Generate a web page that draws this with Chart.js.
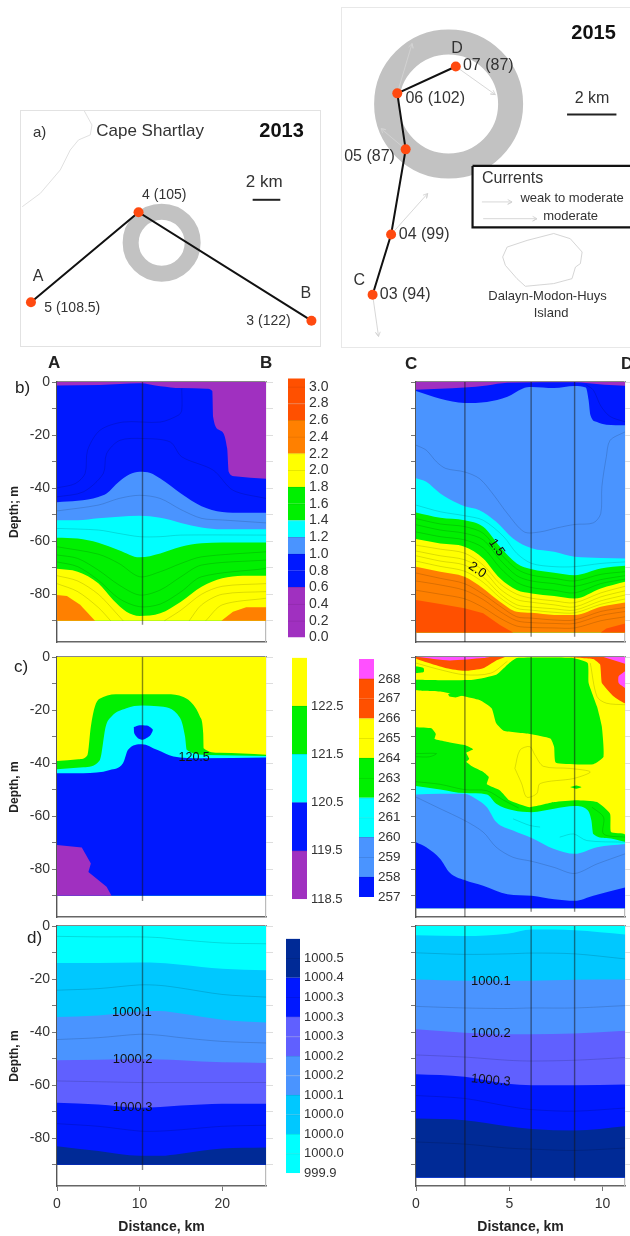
<!DOCTYPE html>
<html>
<head>
<meta charset="utf-8">
<script src="https://cdn.jsdelivr.net/npm/chart.js@4"></script>
<style>
html, body { margin: 0; padding: 0; background: #fff; }
#page { position: relative; width: 630px; height: 1236px; overflow: hidden; filter: blur(0.45px); font-family: "Liberation Sans", Arial, sans-serif; color: #222; }
canvas { position: absolute; }
.tag { position: absolute; line-height: 1; transform: translateY(-50%); }
</style>
</head>
<body>
<div id="page"></div>
<script>
// colours
const PURPLE = '#a030c0', BLUE = '#0018ff', SKY = '#4a94ff', CYAN = '#00ffff', GREEN = '#00f000';
const YELLOW = '#ffff00', ORANGE = '#ff8000', RED = '#ff5000', PINK = '#ff50ff';
const AZURE = '#00c8ff', PERI = '#6060ff', NAVY = '#002a96';

// ---- maps (km) ----
const stations13 = [[0.72, 3.16], [8.5, 9.67], [21.0, 1.83]];
const ring13 = [[10.17, 7.47]];
const scale13 = [[16.75, 10.57], [18.75, 10.57]];
const coast13 = [[4.58, 16.99], [5.13, 15.98], [5.01, 15.26], [4.16, 14.9], [3.56, 14.17], [2.84, 12.73], [1.4, 11.04], [0.09, 10.07]];

const stations15 = [[1.24, 2.12], [1.99, 4.56], [2.58, 8.01], [2.24, 10.28], [4.61, 11.37]];
const ring15 = [[4.32, 9.85]];
const scale15 = [[9.12, 9.42], [11.12, 9.42]];
const island15 = [[6.51, 3.65], [6.69, 4.05], [7.5, 4.32], [8.58, 4.6], [9.25, 4.39], [9.73, 3.85], [9.66, 3.38], [9.46, 3.24], [9.32, 2.77], [8.58, 2.57], [7.43, 2.46], [7.09, 2.77], [6.62, 3.31], [6.51, 3.65]];
const legendBox15 = [[5.29, 7.34], [11.9, 7.34], [11.9, 4.85], [5.29, 4.85], [5.29, 7.34]];
const currents15 = [
    [[1.24, 2.12], [1.48, 0.43]], [[1.99, 4.56], [3.47, 6.22]], [[2.58, 8.01], [1.58, 8.85]],
    [[2.24, 10.28], [2.84, 12.3]], [[4.61, 11.37], [6.21, 10.23]],
    [[5.67, 5.88], [6.89, 5.88]], [[5.72, 5.2], [7.9, 5.2]]
];

// ---- b) 2013 section ----
const b13Blue = [[0, -1.3], [5.2, -1.1], [10, -0.5], [12.5, -1.6], [15, -2.3], [18.1, -2.5], [18.8, -3.4], [18.9, -13.2], [19.7, -18.2], [20.6, -25.1], [20.8, -33.9], [21.5, -35.5], [25.3, -36.5]];
const b13Sky = [[0, -45.3], [2.5, -44.8], [5, -43.3], [6, -42], [7.5, -37.6], [8.8, -34.8], [10, -33.8], [11.3, -34.3], [12.5, -36.4], [15, -42], [17.5, -46.8], [20, -49], [22.5, -49.3], [25.3, -49.3]];
const b13Cyan = [[0, -52.1], [2.5, -52.1], [5, -51.4], [7.5, -50.8], [10, -50.4], [12.5, -51.2], [15, -53.1], [17.5, -54.8], [20, -55.5], [25.3, -55.5]];
const b13Green = [[0, -58.7], [2.5, -59], [5, -60.6], [7.5, -63.4], [10, -66.1], [12.5, -64.6], [15, -62.1], [17.5, -60.8], [20, -60.5], [25.3, -60.5]];
const b13Yellow = [[0, -70.4], [2.5, -71.5], [5, -75.9], [6.8, -82.2], [8.4, -86.6], [10, -88.2], [12.5, -87.2], [15, -82.8], [17.5, -77.2], [20, -74], [22.5, -73], [25.3, -73]];
const b13OrangeL = [[0, -90], [0, -80.3], [1.2, -80.7], [2.8, -84], [4.6, -90]];
const b13OrangeR = [[19.9, -90], [21.3, -86.6], [22.9, -84.9], [25.3, -84.9], [25.3, -90]];
const b13Iso = [
    [[0, -39.9], [2.2, -38.3], [3.4, -34.5], [3.7, -25.7], [5.2, -18.2], [8, -15.1], [12.5, -15.1], [14.7, -12.5], [15.1, -10.7], [15.1, -2.5]],
    [[0, -43.3], [3.2, -41.4], [5.6, -34.5], [6, -27], [7.6, -22], [10.4, -21.3], [13.7, -22.6], [15.1, -28.2], [18.9, -33.2], [21.3, -40.8], [25.3, -43.9]],
    [[0, -48.6], [5, -46.4], [7.5, -43.9], [10, -42.7], [12.5, -43.9], [15, -48.1], [17.5, -51.4], [20, -52], [25.3, -53.1]],
    [[0, -55.2], [5, -55.8], [7.5, -57.1], [10, -58.3], [12.5, -58.3], [15, -57.7], [25.3, -57.7]],
    [[0, -62.1], [5, -64.9], [7.5, -68.4], [10, -73.4], [12.5, -71.5], [15, -68.4], [17.5, -65.9], [25.3, -64]],
    [[0, -65.2], [2.5, -66.5], [5, -70.9], [7.5, -76.5], [10, -80.3], [12.5, -78.4], [15, -73.4], [17.5, -69], [25.3, -67.1]],
    [[0, -67.8], [2.5, -69.6], [5, -74.7], [7.5, -81.6], [10, -84.7], [12.5, -83.7], [15, -79.1], [17.5, -73.4], [25.3, -70.3]],
    [[0, -73], [2.5, -75], [5, -80], [7, -86.5], [8, -90]],
    [[0, -76], [2.5, -79], [5, -85], [6.5, -90]],
    [[13, -90], [15, -86], [17.5, -80], [20, -77], [25.3, -76]],
    [[16, -90], [17.5, -84], [20, -80], [25.3, -79]],
    [[18, -90], [20, -84], [25.3, -81.5]]
];

// ---- b) 2015 section ----
const b15Blue = [[0, -2.9], [2.6, -2.1], [3.8, -1.3], [4.9, -0.3], [8.4, -0.1], [10.1, -1], [11.2, -1.4]];
const b15Sky = [[0, -3.4], [1.3, -6.3], [2.6, -7.9], [3.8, -7.5], [4.9, -5.6], [5.7, -2.5], [6.2, -1.9], [7.4, -2.3], [8.5, -1.5], [9.1, -2.1], [9.25, -6.9], [9.35, -12.5], [9.7, -15.1], [10.2, -16.1], [11.2, -16.3]];
const b15Cyan = [[0, -36.3], [0.55, -37.6], [1.3, -42], [2.2, -45.6], [2.6, -46.8], [3.4, -48.3], [4.3, -52.7], [5.2, -59], [6.2, -62.7], [7.4, -64], [8.5, -65.9], [9.9, -66.3], [11.2, -66.5]];
const b15X = [0, 1.3, 2.6, 3.6, 4.5, 5.4, 6.2, 7.4, 8.5, 9.9, 11.2];
const b15Green = [-49.2, -51.2, -52.1, -54.6, -62.1, -68.4, -70.6, -71.9, -72.8, -70.3, -69.3];
const b15Yellow = [-59.2, -60.9, -62.1, -66.5, -74, -78.4, -79.7, -80.7, -81.6, -77.8, -75.3];
const b15Orange = [-69.6, -71.5, -73.4, -77.8, -82.8, -86.6, -87, -87.8, -87.8, -84.7, -83.1];
const b15RedL = [[0, -94.4], [0, -82.2], [1.3, -83.7], [2.6, -85.3], [3.6, -87.2], [4.5, -91.6], [5.2, -94.4]];
const b15RedR = [[9.9, -94.4], [10.2, -92.9], [11.2, -91], [11.2, -94.4]];
const b15IsoSky = [[0, -23.8], [0.55, -25.7], [1.1, -30.1], [1.6, -32.6], [2.6, -33.9], [3.4, -36.4], [4.1, -42], [4.9, -49.6], [5.8, -56.5], [6.65, -56.5], [7.55, -55], [8.5, -53.7], [9.5, -53.1], [9.9, -49.6], [9.96, -39.5], [10.2, -28.2], [10.4, -22], [11.2, -18.8]];
const b15IsoCyan = [[0, -46.4], [1.3, -48.9], [2.6, -50.4], [3.6, -52.1], [4.7, -58.3], [5.4, -64.6], [6.2, -68.4], [7.4, -69.6], [8.5, -69.6], [9.9, -68.4], [11.2, -67.8]];
const b15IsoTop = [[9.1, -1], [9.5, -3], [9.9, -9], [10.4, -13], [11.2, -15]];
const b15Iso = [
    [-51.5, -53.5, -54.5, -57, -64.5, -70.5, -72.8, -74, -75, -72.5, -71.5],
    [-53.8, -55.8, -57, -59.5, -67, -73, -75, -76, -77, -74.5, -73],
    [-56.5, -58.3, -59.5, -62.5, -70, -75.5, -77.5, -78.5, -79.5, -76, -74.3],
    [-61.5, -63, -64.5, -69, -76, -80, -81.5, -82.5, -83.2, -79.5, -77],
    [-63.7, -65.5, -67, -71, -78, -82, -83, -84, -84.8, -81, -78.7],
    [-65.5, -67.5, -69, -73.5, -79.8, -84, -84.8, -85.5, -86, -82.5, -80.3],
    [-67.5, -69.5, -71.3, -75.5, -81.3, -85.3, -86, -86.8, -87, -83.8, -81.8],
    [-72, -74, -76, -80, -84.5, -88.5, -89, -89.7, -89.7, -86.5, -85],
    [-75, -76.5, -78.5, -82, -86.5, -90, -90.7, -91, -91, -88, -86.5],
    [-78.5, -80, -81.7, -85, -89, -92, -92.5, -92.7, -92.7, -90, -88.5]
];

// ---- c) 2013 section ----
const c13Green = [[0, -39.2], [2.6, -38.5], [3.7, -36.9], [4.1, -26.2], [4.6, -18.6], [5.6, -15.1], [7.6, -14], [10.3, -14], [13.3, -14], [15.3, -15.1], [16.5, -18], [17.3, -22.4], [17.7, -28.7], [17.75, -34.4], [19.7, -36.1], [25.3, -36.8]];
const c13Cyan = [[0, -42.3], [3.2, -41.6], [5.2, -38.8], [5.9, -26.2], [6.6, -22.4], [8.4, -19.3], [10.3, -18.3], [12.2, -18.6], [14.9, -23], [15.5, -30], [15.7, -35], [18.1, -36.9], [25.3, -37.3]];
const c13Blue = [[0, -43.8], [3.2, -43.8], [6.4, -42.6], [8, -40], [8.6, -35], [10.3, -32.9], [12.1, -35], [14.1, -37.5], [17.3, -38.2], [25.3, -37.9]];
const c13Core = [[9.3, -26.4], [10, -25.7], [11, -25.9], [11.6, -27.4], [11.25, -29.7], [10.4, -31.2], [9.8, -30.6], [9.35, -28.7], [9.3, -26.4]];
const c13Purple = [[0, -90], [0, -70.9], [3, -71.8], [4.1, -77.8], [3.8, -81], [6, -86.6], [6.6, -90]];

// ---- c) 2015 section ----
const c15GreenTop = [[0, -8.6], [1.8, -8.8], [3.06, -8.6], [4.3, -6.7], [5, -2.3], [5.4, -0.4], [8.4, -0.4], [9.2, -2.3], [9.25, -9.8], [9.7, -18.7], [9.96, -26.3], [10.05, -37.6], [9.5, -40.4], [7.5, -39.9], [7.4, -33.8], [7.2, -30.7], [6.1, -29], [4.7, -27.8], [4.3, -25], [4.05, -19.3], [3.4, -16.2], [1.3, -13], [0, -12.4], [0, -8.6]];
const c15GreenLow = [[0, -26.5], [0.82, -26.9], [1.06, -29], [1, -30.9], [1.63, -31.9], [2.6, -33.2], [3.06, -34.8], [2.7, -36.1], [2.85, -38.4], [2.7, -39.5], [3, -41.2], [3.6, -43.3], [3.9, -45.2], [3.8, -48], [4.5, -50.3], [5, -54], [6.1, -56.6], [7.4, -54.7], [8.6, -54], [9.7, -54.7], [10.4, -59.1], [10.45, -66], [11.2, -66.9], [11.2, -75], [0, -75], [0, -26.5]];
const c15SpotA = [[0, -3.5], [0.41, -4.2], [0.41, -5.7], [0, -6.1]];
const c15SpotB = [[1.72, -14], [2.08, -13], [2.89, -12.6], [2.8, -13.6], [2.17, -15.2], [1.8, -14.9], [1.72, -14]];
const c15SpotC = [[8.26, -49], [8.58, -48.4], [8.87, -49], [8.58, -49.7], [8.26, -49]];
const c15RedL = [[0, 0], [0, -0.6], [0.55, -2], [1.63, -4.2], [2.6, -5.2], [3.6, -4.2], [4.3, -1.3], [4.77, 0]];
const c15PinkL = [[0.1, 0], [1.8, -1.3], [3.6, -0.4], [3.96, 0]];
const c15RedR = [[8.08, 0], [9.5, -0.8], [9.87, -2.9], [9.96, -9.8], [10.6, -14.9], [11.2, -17.4], [11.2, 0]];
const c15PinkTop = [[10.05, 0], [11.2, -2.5], [11.2, 0]];
const c15PinkSide = [[11.2, -5.4], [10.86, -7.3], [10.86, -9.8], [11.2, -11.7]];
const c15Cyan = [[0, -48.6], [1.3, -49.9], [2.6, -51.3], [3.8, -51.8], [4.3, -55.3], [5.2, -57.8], [6.2, -58.5], [7.4, -57.2], [8.5, -56.2], [9.2, -57.8], [9.4, -61.6], [9.5, -66.7], [10.2, -68.2], [11.2, -69.6]];
const c15Sky = [[0, -51.8], [1.3, -51.5], [2.6, -51.5], [3.2, -53.4], [3.8, -56.6], [4.3, -62.2], [5.2, -65.4], [6.2, -68.2], [7.4, -72.4], [8.5, -74.2], [9.7, -71.7], [11.2, -70.5]];
const c15Blue = [[0, -69.8], [0.55, -71.7], [1.3, -76.1], [1.8, -81.2], [2.6, -84.1], [3.6, -86.2], [4.9, -89.4], [6.2, -90], [7.4, -91.3], [8.5, -91.9], [9.5, -90], [11.2, -86.9]];
const c15Iso = [
    [[0, -52.8], [1.3, -57.2], [2.6, -61.6], [3.6, -66], [4.3, -71.7], [5.2, -75.5], [6.2, -77], [7.4, -79.3], [8.5, -81.6], [9.7, -78], [11.2, -74.2]],
    [[5.3, -42], [5.57, -35.1], [6.1, -33.8], [6.38, -37], [6.83, -41.2], [8.26, -42], [9.34, -43.3], [8.44, -45.8], [6.65, -47.7], [6.47, -51.5], [5.93, -52.8], [5.66, -47.7], [5.3, -42]],
    [[0, -47], [1.3, -48], [2.6, -50], [3.8, -50.4], [4.7, -54], [5.5, -56.9]],
    [[9.43, -56.6], [10.05, -60.4], [10.05, -66.7], [11.2, -67.9]],
    [[0, -2.3], [1.3, -4.8], [2.6, -6.7], [4, -6.1], [4.9, -1.6]],
    [[9.34, -2.3], [9.7, -14.9], [10.2, -17.4], [11.2, -18]],
    [[7.7, -67.9], [8.44, -66.7], [9.16, -69.2], [11.2, -69.8]],
    [[5.2, -61], [6.1, -63.5], [6.65, -64.1]],
    [[0, -36.4], [1.09, -36.4], [0.73, -37.6], [0, -37.6]]
];

// ---- d) sections ----
const d13X = [0, 5, 10, 12.5, 15, 20, 25.3];
const d13Azure = [-13.9, -13.9, -13.8, -13.9, -14.6, -16.1, -16.7];
const d13Sky = [-34.3, -33.7, -32.2, -32, -33, -35.3, -36.4];
const d13Peri = [-50.6, -50.4, -50.1, -50.3, -50.6, -51.4, -51.6];
const d13Blue = [-66.6, -67.3, -68.5, -68.2, -67.7, -67, -67];
const d13Navy = [-83, -84.8, -86.6, -86.6, -85.8, -83.9, -83.5];
const d13Iso = [
    [-3.9, -4.1, -4.1, -4.4, -5.2, -6.4, -6.7],
    [-24.2, -23.6, -22.2, -22.4, -23.4, -25.8, -26.8],
    [-42.8, -42.1, -40.8, -41.2, -42.1, -43.5, -44.1],
    [-58.4, -58.7, -59, -59, -59, -59, -59],
    [-74.5, -75.5, -77.3, -77.3, -76.8, -75.5, -75.1]
];
const d15X = [0, 2.6, 4.9, 6.2, 8.5, 11.2];
const d15Azure = [-3.5, -3.8, -2.9, -1.3, -1.6, -3.2];
const d15Sky = [-20.2, -20.6, -20.6, -20.6, -20.3, -20.2];
const d15Peri = [-38.9, -40.2, -40.8, -40.8, -40.5, -39.5];
const d15Blue = [-55.9, -56.8, -59.5, -60, -60, -59.7];
const d15Navy = [-72.6, -73.2, -75.5, -76.5, -77.1, -75.5];
const d15Iso = [
    [-10.1, -10.7, -10.5, -10.2, -10.5, -12.4],
    [-30.3, -30.9, -31.1, -30.9, -30.9, -30],
    [-48.6, -49.4, -50.6, -50.9, -50.6, -49.6],
    [-63.9, -65, -67.9, -69.2, -69.8, -68.6],
    [-81.4, -82.2, -83.7, -84.1, -84.6, -83.7]
];

// ---- colour scales ----
const tempEdges = [0, 0.2, 0.4, 0.6, 0.8, 1.0, 1.2, 1.4, 1.6, 1.8, 2.0, 2.2, 2.4, 2.6, 2.8, 3.0, 3.1];
const tempColors = [PURPLE, PURPLE, PURPLE, BLUE, BLUE, SKY, CYAN, GREEN, GREEN, YELLOW, YELLOW, ORANGE, ORANGE, RED, RED, RED];
const tempTicks = [0, 0.2, 0.4, 0.6, 0.8, 1.0, 1.2, 1.4, 1.6, 1.8, 2.0, 2.2, 2.4, 2.6, 2.8, 3.0];
const tempLabels = ['0.0', '0.2', '0.4', '0.6', '0.8', '1.0', '1.2', '1.4', '1.6', '1.8', '2.0', '2.2', '2.4', '2.6', '2.8', '3.0'];
const sal13Edges = [118.5, 119.5, 120.5, 121.5, 122.5, 123.5];
const sal13Colors = [PURPLE, BLUE, CYAN, GREEN, YELLOW];
const sal13Ticks = [118.5, 119.5, 120.5, 121.5, 122.5];
const sal13Labels = ['118.5', '119.5', '120.5', '121.5', '122.5'];
const sal15Edges = [257, 258, 259, 260, 261, 262, 263, 264, 265, 266, 267, 268, 269];
const sal15Colors = [BLUE, SKY, SKY, CYAN, CYAN, GREEN, GREEN, YELLOW, YELLOW, RED, RED, PINK];
const sal15Ticks = [257, 258, 259, 260, 261, 262, 263, 264, 265, 266, 267, 268];
const sal15Labels = ['257', '258', '259', '260', '261', '262', '263', '264', '265', '266', '267', '268'];
const densEdges = [0, 1, 2, 3, 4, 5, 6, 7, 8, 9, 10, 11, 12];
const densColors = [CYAN, CYAN, AZURE, AZURE, SKY, SKY, PERI, PERI, BLUE, BLUE, NAVY, NAVY];
const densTicks = [0, 1, 2, 3, 4, 5, 6, 7, 8, 9, 10, 11];
const densLabels = ['999.9', '1000.0', '1000.0', '1000.0', '1000.1', '1000.2', '1000.2', '1000.3', '1000.3', '1000.3', '1000.4', '1000.5'];

const page = document.getElementById('page');
const FONT = '"Liberation Sans", Arial, sans-serif';
const FRAME_DEPTH = -98;

const pts = arr => arr.map(([x, y]) => ({ x, y }));
const zip = (xs, ys) => xs.map((x, i) => ({ x, y: ys[i] }));

function band(data, color, bottom) {
    return { data, backgroundColor: color, fill: { value: bottom }, showLine: true, borderWidth: 0, pointRadius: 0, cubicInterpolationMode: 'monotone' };
}
function blob(data, color, tension = 0.2) {
    return { data, backgroundColor: color, fill: 'shape', showLine: true, borderWidth: 0, pointRadius: 0, tension };
}
function iso(data) {
    return { data, showLine: true, fill: false, borderColor: 'rgba(0,0,0,0.2)', borderWidth: 0.7, pointRadius: 0, tension: 0.3 };
}
function stroke(data, color, width) {
    return { data, showLine: true, fill: false, borderColor: color, borderWidth: width, pointRadius: 0, tension: 0 };
}
function vline(x, to) {
    return stroke([{ x, y: 0 }, { x, y: to }], 'rgba(20,20,20,0.5)', 1.4);
}
function arrow(from, tip) {
    // shaft plus two barbs, built from the end points
    const a = Math.atan2(tip[1] - from[1], tip[0] - from[0]);
    const barb = d => ({ x: tip[0] - 0.2 * Math.cos(a + d), y: tip[1] - 0.2 * Math.sin(a + d) });
    const t = { x: tip[0], y: tip[1] };
    return stroke([{ x: from[0], y: from[1] }, t, barb(0.5), t, barb(-0.5)], '#d2d2d2', 0.9);
}
// slightly darker version of a hex colour, for the level lines in the colour bars
function shade(hex) {
    const n = parseInt(hex.slice(1), 16);
    const d = v => Math.round(v * 0.9);
    return `rgb(${d(n >> 16)},${d((n >> 8) & 255)},${d(n & 255)})`;
}

// text placed at data coordinates
const notes = {
    id: 'notes',
    afterDatasetsDraw(chart, args, opts) {
        const ctx = chart.ctx;
        for (const n of opts.items || []) {
            ctx.save();
            ctx.translate(chart.scales.x.getPixelForValue(n.x), chart.scales.y.getPixelForValue(n.y));
            if (n.rot) ctx.rotate(n.rot * Math.PI / 180);
            ctx.font = n.font + ' ' + FONT;
            ctx.fillStyle = n.color || '#333';
            ctx.textAlign = n.align || 'left';
            ctx.textBaseline = 'middle';
            ctx.fillText(n.text, 0, 0);
            ctx.restore();
        }
    }
};

function makeCanvas(left, top, width, height) {
    const c = document.createElement('canvas');
    c.width = width;
    c.height = height;
    c.style.left = left + 'px';
    c.style.top = top + 'px';
    c.style.width = width + 'px';
    c.style.height = height + 'px';
    page.appendChild(c);
    return c;
}

function layered(list) {
    // first in the list is painted first
    list.forEach((d, i) => { d.order = list.length - i; });
    return list;
}

function section(box, xMax, datasets, cfg) {
    // the bottom margin has to hold half a tick label or the plot shrinks
    const L = cfg.yLabels ? box.left : 12, R = 8, T = 12, B = cfg.xStep ? 50 : 12;
    const canvas = makeCanvas(box.left - L, box.top - T, L + box.width + R, T + box.height + B);
    new Chart(canvas, {
        type: 'scatter',
        data: { datasets: layered(datasets) },
        plugins: [notes],
        options: {
            responsive: false,
            animation: false,
            events: [],
            devicePixelRatio: 1,
            layout: { padding: 0, autoPadding: false },
            plugins: { legend: { display: false }, tooltip: { enabled: false }, notes: { items: cfg.notes || [] } },
            scales: {
                x: {
                    type: 'linear', position: 'bottom', min: 0, max: xMax,
                    afterFit: s => { s.height = B; },
                    border: { color: '#666', width: 1.6 },
                    grid: { drawOnChartArea: false, drawTicks: !!cfg.xStep, tickLength: 5, tickColor: '#777' },
                    ticks: { display: !!cfg.xStep, stepSize: cfg.xStep, includeBounds: false, maxRotation: 0, padding: 5, color: '#333', font: { family: FONT, size: 14 } },
                    title: { display: !!cfg.xStep, text: 'Distance, km', color: '#222', padding: { top: 2, bottom: 0 }, font: { family: FONT, size: 14, weight: 'bold' } }
                },
                xt: {
                    axis: 'x', type: 'linear', position: 'top', min: 0, max: xMax,
                    afterFit: s => { s.height = T; },
                    border: { color: '#888', width: 1.2 },
                    grid: { drawOnChartArea: false, drawTicks: false },
                    ticks: { display: false }
                },
                y: {
                    type: 'linear', position: 'left', min: FRAME_DEPTH, max: 0,
                    afterFit: s => { s.width = L; },
                    border: { color: '#555', width: 1.4 },
                    grid: { drawOnChartArea: false, tickLength: 5, tickColor: '#777' },
                    ticks: {
                        display: !!cfg.yLabels, stepSize: 10, includeBounds: false, padding: 2, color: '#333',
                        font: { family: FONT, size: 14 },
                        callback: v => (v % 20 === 0 ? String(v) : '')
                    },
                    title: { display: !!cfg.yLabels, text: cfg.yTitle || '', color: '#222', padding: { top: 7, bottom: 0 }, font: { family: FONT, size: 12, weight: 'bold' } }
                },
                yr: {
                    axis: 'y', type: 'linear', position: 'right', min: FRAME_DEPTH, max: 0,
                    afterFit: s => { s.width = R; },
                    border: { color: '#bbb', width: 1.2 },
                    grid: { drawOnChartArea: false, tickLength: 7, tickColor: '#ddd' },
                    ticks: { display: false, stepSize: 10, includeBounds: false }
                }
            }
        }
    });
}

function colorbar(box, edges, colors, ticks, labels, fontSize) {
    const pad = 10, labelRoom = 60;
    const canvas = makeCanvas(box.left, box.top - pad, box.width + labelRoom, box.height + pad * 2);
    new Chart(canvas, {
        type: 'bar',
        data: {
            labels: [''],
            datasets: colors.map((c, i) => ({
                data: [[edges[i], edges[i + 1]]],
                backgroundColor: c,
                borderColor: shade(c),
                borderWidth: i === colors.length - 1 ? 0 : { top: 1, bottom: 0, left: 0, right: 0 },
                borderSkipped: false,
                grouped: false,
                barPercentage: 1,
                categoryPercentage: 1
            }))
        },
        options: {
            responsive: false,
            animation: false,
            events: [],
            devicePixelRatio: 1,
            layout: { padding: { top: pad, bottom: pad, left: 0, right: 0 }, autoPadding: false },
            plugins: { legend: { display: false }, tooltip: { enabled: false } },
            scales: {
                x: { display: false },
                y: {
                    type: 'linear', position: 'right',
                    min: edges[0], max: edges[edges.length - 1],
                    afterFit: s => { s.width = labelRoom; },
                    afterBuildTicks: s => { s.ticks = ticks.map(value => ({ value })); },
                    border: { display: false },
                    grid: { display: false, drawTicks: false, tickLength: 0 },
                    ticks: {
                        autoSkip: false, padding: 4, color: '#333',
                        font: { family: FONT, size: fontSize },
                        callback: (v, i) => labels[i]
                    }
                }
            }
        }
    });
}

function mapChart(box, xMax, yMax, datasets, items) {
    const canvas = makeCanvas(box.left, box.top, box.width, box.height);
    canvas.style.outline = box.outline;
    new Chart(canvas, {
        type: 'scatter',
        data: { datasets: layered(datasets) },
        plugins: [notes],
        options: {
            responsive: false,
            animation: false,
            events: [],
            devicePixelRatio: 1,
            layout: { padding: 0, autoPadding: false },
            plugins: { legend: { display: false }, tooltip: { enabled: false }, notes: { items } },
            scales: {
                x: { type: 'linear', display: false, min: 0, max: xMax },
                y: { type: 'linear', display: false, min: 0, max: yMax }
            }
        }
    });
}

function ring(center, radius, width) {
    return { data: pts(center), showLine: false, pointRadius: radius, pointHoverRadius: radius, pointBorderWidth: width, pointBorderColor: '#c2c2c2', pointBackgroundColor: 'rgba(0,0,0,0)', clip: false };
}
function stationDots(list) {
    return { data: pts(list), showLine: false, pointRadius: 5, pointBorderWidth: 0, pointBackgroundColor: '#ff4a10' };
}

// ---- a) maps ----
mapChart({ left: 21, top: 111, width: 299, height: 235, outline: '1.6px solid #e2e2e2' }, 21.62, 16.99, [
    stroke(pts(coast13), '#dcdcdc', 0.9),
    ring(ring13, 31, 16),
    stroke(pts(stations13), '#111', 2),
    stationDots(stations13),
    stroke(pts(scale13), '#222', 2)
], [
    { text: 'a)', x: 0.87, y: 15.42, font: '15px' },
    { text: 'Cape Shartlay', x: 5.44, y: 15.55, font: '17px' },
    { text: '2013', x: 17.23, y: 15.49, font: 'bold 20px', color: '#111' },
    { text: '2 km', x: 17.59, y: 11.81, font: '17px', align: 'center' },
    { text: '4 (105)', x: 10.36, y: 10.92, font: '14px', align: 'center' },
    { text: '5 (108.5)', x: 1.68, y: 2.73, font: '14px' },
    { text: '3 (122)', x: 16.29, y: 1.83, font: '14px' },
    { text: 'A', x: 1.23, y: 4.99, font: '16px', align: 'center' },
    { text: 'B', x: 20.6, y: 3.76, font: '16px', align: 'center' }
]);

mapChart({ left: 342, top: 8, width: 288, height: 339, outline: '1.6px solid #e8e8e8' }, 11.67, 13.74, [
    ring(ring15, 62, 25),
    stroke(pts(island15), '#d0d0d0', 0.9),
    ...currents15.slice(0, 5).map(c => arrow(c[0], c[1])),
    stroke(pts(stations15), '#111', 2),
    stationDots(stations15),
    stroke(pts(scale15), '#222', 2),
    { data: pts(legendBox15), showLine: true, fill: 'shape', backgroundColor: '#fff', borderColor: '#111', borderWidth: 2.2, pointRadius: 0, tension: 0 },
    ...currents15.slice(5).map(c => arrow(c[0], c[1]))
], [
    { text: '2015', x: 9.29, y: 12.71, font: 'bold 20px', color: '#111' },
    { text: '2 km', x: 10.13, y: 10.08, font: '16px', align: 'center' },
    { text: 'D', x: 4.66, y: 12.11, font: '16px', align: 'center' },
    { text: '07 (87)', x: 4.9, y: 11.39, font: '16px' },
    { text: '06 (102)', x: 2.57, y: 10.07, font: '16px' },
    { text: '05 (87)', x: 0.09, y: 7.7, font: '16px' },
    { text: '04 (99)', x: 2.3, y: 4.56, font: '16px' },
    { text: '03 (94)', x: 1.53, y: 2.12, font: '16px' },
    { text: 'C', x: 0.7, y: 2.7, font: '16px', align: 'center' },
    { text: 'Dalayn-Modon-Huys', x: 8.33, y: 2.03, font: '13px', align: 'center' },
    { text: 'Island', x: 8.47, y: 1.37, font: '13px', align: 'center' },
    { text: 'Currents', x: 5.67, y: 6.83, font: '16px' },
    { text: 'weak to moderate', x: 7.23, y: 6.03, font: '13px' },
    { text: 'moderate', x: 8.15, y: 5.31, font: '13px' }
]);

// ---- b) ----
section({ left: 57, top: 382, width: 209, height: 260 }, 25.3, [
    band([{ x: 0, y: 0 }, { x: 25.3, y: 0 }], PURPLE, -90),
    band(pts(b13Blue), BLUE, -90),
    band(pts(b13Sky), SKY, -90),
    band(pts(b13Cyan), CYAN, -90),
    band(pts(b13Green), GREEN, -90),
    band(pts(b13Yellow), YELLOW, -90),
    blob(pts(b13OrangeL), ORANGE, 0),
    blob(pts(b13OrangeR), ORANGE, 0),
    ...b13Iso.map(l => iso(pts(l))),
    vline(10.35, -91.5)
], { yLabels: true, yTitle: 'Depth; m' });

section({ left: 416, top: 382, width: 209, height: 260 }, 11.2, [
    band([{ x: 0, y: 0 }, { x: 11.2, y: 0 }], PURPLE, -94.4),
    band(pts(b15Blue), BLUE, -94.4),
    band(pts(b15Sky), SKY, -94.4),
    band(pts(b15Cyan), CYAN, -94.4),
    band(zip(b15X, b15Green), GREEN, -94.4),
    band(zip(b15X, b15Yellow), YELLOW, -94.4),
    band(zip(b15X, b15Orange), ORANGE, -94.4),
    blob(pts(b15RedL), RED, 0),
    blob(pts(b15RedR), RED, 0),
    iso(pts(b15IsoSky)),
    iso(pts(b15IsoCyan)),
    iso(pts(b15IsoTop)),
    ...b15Iso.map(l => iso(zip(b15X, l))),
    vline(2.62, FRAME_DEPTH), vline(6.17, -96), vline(8.5, -96)
], { notes: [
    { text: '1.5', x: 4.32, y: -62.4, font: '13px', align: 'center', rot: 55, color: '#111' },
    { text: '2.0', x: 3.28, y: -70.9, font: '13px', align: 'center', rot: 35, color: '#111' }
] });

// ---- c) ----
section({ left: 57, top: 657, width: 209, height: 260 }, 25.3, [
    band([{ x: 0, y: 0 }, { x: 25.3, y: 0 }], YELLOW, -90),
    band(pts(c13Green), GREEN, -90),
    band(pts(c13Cyan), CYAN, -90),
    band(pts(c13Blue), BLUE, -90),
    blob(pts(c13Core), BLUE),
    blob(pts(c13Purple), PURPLE, 0),
    vline(10.35, -92)
], { yLabels: true, yTitle: 'Depth, m', notes: [
    { text: '120.5', x: 16.6, y: -37.9, font: '12.5px', align: 'center', color: '#111' }
] });

section({ left: 416, top: 657, width: 209, height: 260 }, 11.2, [
    band([{ x: 0, y: 0 }, { x: 11.2, y: 0 }], YELLOW, -94.7),
    blob(pts(c15GreenLow), GREEN, 0.15),
    blob(pts(c15GreenTop), GREEN, 0.15),
    blob(pts(c15SpotA), GREEN),
    blob(pts(c15SpotB), GREEN),
    blob(pts(c15SpotC), GREEN),
    blob(pts(c15RedL), RED),
    blob(pts(c15PinkL), PINK),
    blob(pts(c15RedR), RED, 0.1),
    blob(pts(c15PinkTop), PINK, 0),
    blob(pts(c15PinkSide), PINK),
    band(pts(c15Cyan), CYAN, -94.7),
    band(pts(c15Sky), SKY, -94.7),
    band(pts(c15Blue), BLUE, -94.7),
    ...c15Iso.map(l => iso(pts(l))),
    vline(2.62, FRAME_DEPTH), vline(6.17, -96), vline(8.5, -96)
], {});

// ---- d) ----
section({ left: 57, top: 926, width: 209, height: 260 }, 25.3, [
    band([{ x: 0, y: 0 }, { x: 25.3, y: 0 }], CYAN, -90),
    band(zip(d13X, d13Azure), AZURE, -90),
    band(zip(d13X, d13Sky), SKY, -90),
    band(zip(d13X, d13Peri), PERI, -90),
    band(zip(d13X, d13Blue), BLUE, -90),
    band(zip(d13X, d13Navy), NAVY, -90),
    ...d13Iso.map(l => iso(zip(d13X, l))),
    vline(10.35, -92)
], { yLabels: true, yTitle: 'Depth, m', xStep: 10, notes: [
    { text: '1000.1', x: 9.07, y: -32.4, font: '13px', align: 'center', color: '#111' },
    { text: '1000.2', x: 9.15, y: -50.4, font: '13px', align: 'center', color: '#111' },
    { text: '1000.3', x: 9.15, y: -68.2, font: '13px', align: 'center', color: '#111' }
] });

section({ left: 416, top: 926, width: 209, height: 260 }, 11.2, [
    band([{ x: 0, y: 0 }, { x: 11.2, y: 0 }], CYAN, -94.8),
    band(zip(d15X, d15Azure), AZURE, -94.8),
    band(zip(d15X, d15Sky), SKY, -94.8),
    band(zip(d15X, d15Peri), PERI, -94.8),
    band(zip(d15X, d15Blue), BLUE, -94.8),
    band(zip(d15X, d15Navy), NAVY, -94.8),
    ...d15Iso.map(l => iso(zip(d15X, l))),
    vline(2.62, FRAME_DEPTH), vline(6.17, -96), vline(8.5, -96)
], { xStep: 5, notes: [
    { text: '1000.1', x: 4.01, y: -20.8, font: '13px', align: 'center', color: '#111' },
    { text: '1000.2', x: 4.01, y: -40.5, font: '13px', align: 'center', color: '#111' },
    { text: '1000.3', x: 4.01, y: -58.2, font: '13px', align: 'center', rot: 5, color: '#111' }
] });

// ---- colour bars ----
colorbar({ left: 288, top: 376, width: 17, height: 264 }, tempEdges, tempColors, tempTicks, tempLabels, 14);
colorbar({ left: 292, top: 656, width: 15, height: 245 }, sal13Edges, sal13Colors, sal13Ticks, sal13Labels, 13);
colorbar({ left: 359, top: 657, width: 15, height: 242 }, sal15Edges, sal15Colors, sal15Ticks, sal15Labels, 13.5);
colorbar({ left: 286, top: 937, width: 14, height: 238 }, densEdges, densColors, densTicks, densLabels, 13);

// ---- loose panel letters ----
const tags = [
    ['A', 48, 363, 'bold 17px'], ['B', 260, 363, 'bold 17px'], ['C', 405, 364, 'bold 17px'], ['D', 621, 364, 'bold 17px'],
    ['b)', 15, 388, '17px'], ['c)', 14, 667, '17px'], ['d)', 27, 938, '17px']
];
for (const [text, x, y, font] of tags) {
    const s = document.createElement('span');
    s.className = 'tag';
    s.textContent = text;
    s.style.left = x + 'px';
    s.style.top = y + 'px';
    s.style.font = font + ' ' + FONT;
    page.appendChild(s);
}
</script>
</body>
</html>
